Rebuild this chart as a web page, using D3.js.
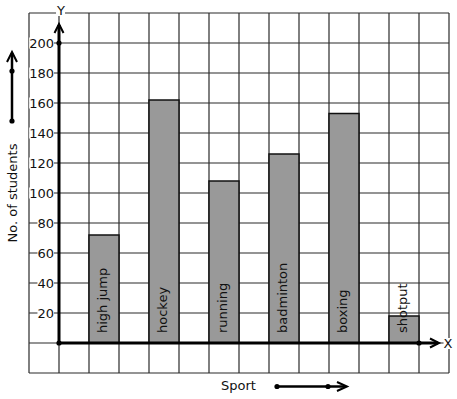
<!DOCTYPE html>
<html>
<head>
<meta charset="utf-8">
<script src="https://cdn.jsdelivr.net/npm/d3@7"></script>
<style>
  body { margin: 0; background: #fff; }
  text { font-family: "DejaVu Sans", sans-serif; font-size: 13px; fill: #111; }
</style>
</head>
<body>
<div id="chart"></div>
<script>
// data
let sports = ["high jump", "hockey", "running", "badminton", "boxing", "shotput"];
let students = [72, 162, 108, 126, 153, 18];
let yTicks = [20, 40, 60, 80, 100, 120, 140, 160, 180, 200];

let width = 457, height = 399;
let gridColor = "#2a2a2a";

let svg = d3.select("#chart").append("svg")
  .attr("width", width)
  .attr("height", height);

// graph paper: 14 columns x 12 rows of 30px
let yScale = d3.scaleLinear().domain([-20, 220]).range([373, 13]);
let colScale = d3.scaleLinear().domain([0, 14]).range([29, 449]);
let xScale = d3.scaleBand()
  .domain(sports)
  .range([colScale(1), colScale(13)])
  .paddingInner(0.5)
  .paddingOuter(0.25)
  .align(1);

let g = svg.append("g");

// grid
g.selectAll(".vgrid")
  .data(d3.range(0, 15))
  .enter().append("line")
  .attr("class", "vgrid")
  .attr("x1", d => colScale(d)).attr("x2", d => colScale(d))
  .attr("y1", yScale(220)).attr("y2", yScale(-20))
  .attr("stroke", gridColor).attr("stroke-width", 1.2);

g.selectAll(".hgrid")
  .data(d3.range(-20, 221, 20))
  .enter().append("line")
  .attr("class", "hgrid")
  .attr("x1", colScale(0)).attr("x2", colScale(14))
  .attr("y1", d => yScale(d)).attr("y2", d => yScale(d))
  .attr("stroke", gridColor).attr("stroke-width", 1.2);

// bars
g.selectAll(".bar")
  .data(sports)
  .enter().append("rect")
  .attr("class", "bar")
  .attr("x", d => xScale(d))
  .attr("y", (d, i) => yScale(students[i]))
  .attr("width", xScale.bandwidth())
  .attr("height", (d, i) => yScale(0) - yScale(students[i]))
  .attr("fill", "#999")
  .attr("stroke", "#111")
  .attr("stroke-width", 1.5);

// labels inside bars
g.selectAll(".bar-label")
  .data(sports)
  .enter().append("text")
  .attr("class", "bar-label")
  .attr("transform", d => "translate(" + (xScale(d) + xScale.bandwidth() / 2 + 2.5) + "," + (yScale(0) - 10) + ") rotate(-90)")
  .attr("fill", "#222")
  .text(d => d);

// text with a white box behind it, to break the grid lines
function boxedText(x, y, txt, anchor) {
  let grp = svg.append("g");
  let rect = grp.append("rect").attr("fill", "#fff");
  let t = grp.append("text")
    .attr("x", x).attr("y", y)
    .attr("text-anchor", anchor)
    .text(txt);
  let bb = t.node().getBBox();
  rect.attr("x", bb.x).attr("y", bb.y + 2).attr("width", bb.width).attr("height", bb.height - 4);
  return grp;
}

// y tick labels
yTicks.forEach(function(v) {
  boxedText(54, yScale(v) + 4.5, v, "end");
});

// axes
let origin = [colScale(1), yScale(0)];
svg.append("line")
  .attr("x1", origin[0]).attr("x2", origin[0])
  .attr("y1", origin[1]).attr("y2", 25)
  .attr("stroke", "#000").attr("stroke-width", 3);
svg.append("line")
  .attr("x1", origin[0]).attr("x2", 438)
  .attr("y1", origin[1]).attr("y2", origin[1])
  .attr("stroke", "#000").attr("stroke-width", 3);

function arrowHead(pts) {
  svg.append("path")
    .attr("d", d3.line()(pts))
    .attr("fill", "none")
    .attr("stroke", "#000")
    .attr("stroke-width", 2);
}
function dot(x, y) {
  svg.append("circle").attr("cx", x).attr("cy", y).attr("r", 2.6).attr("fill", "#000");
}

arrowHead([[origin[0] - 4.5, 33], [origin[0], 24], [origin[0] + 4.5, 33]]);
arrowHead([[430, origin[1] - 4.5], [439, origin[1]], [430, origin[1] + 4.5]]);
dot(origin[0], origin[1]);
dot(origin[0], yScale(200));
dot(colScale(13), origin[1]);

boxedText(61, 15, "Y", "middle");
boxedText(448, 348, "X", "middle");

// y title and its arrow
svg.append("text")
  .attr("transform", "translate(17,193) rotate(-90)")
  .attr("text-anchor", "middle")
  .text("No. of students");
svg.append("line")
  .attr("x1", 12).attr("x2", 12).attr("y1", 121).attr("y2", 53)
  .attr("stroke", "#000").attr("stroke-width", 2.5);
arrowHead([[7, 62], [12, 52], [17, 62]]);
dot(12, 121);
dot(12, 71);

// x title and its arrow
svg.append("text")
  .attr("x", 238.5).attr("y", 389.5)
  .attr("text-anchor", "middle")
  .text("Sport");
svg.append("line")
  .attr("x1", 277).attr("x2", 345).attr("y1", 386.5).attr("y2", 386.5)
  .attr("stroke", "#000").attr("stroke-width", 2.5);
arrowHead([[337, 382], [347, 386.5], [337, 391]]);
dot(277, 386.5);
dot(328, 386.5);
</script>
</body>
</html>
